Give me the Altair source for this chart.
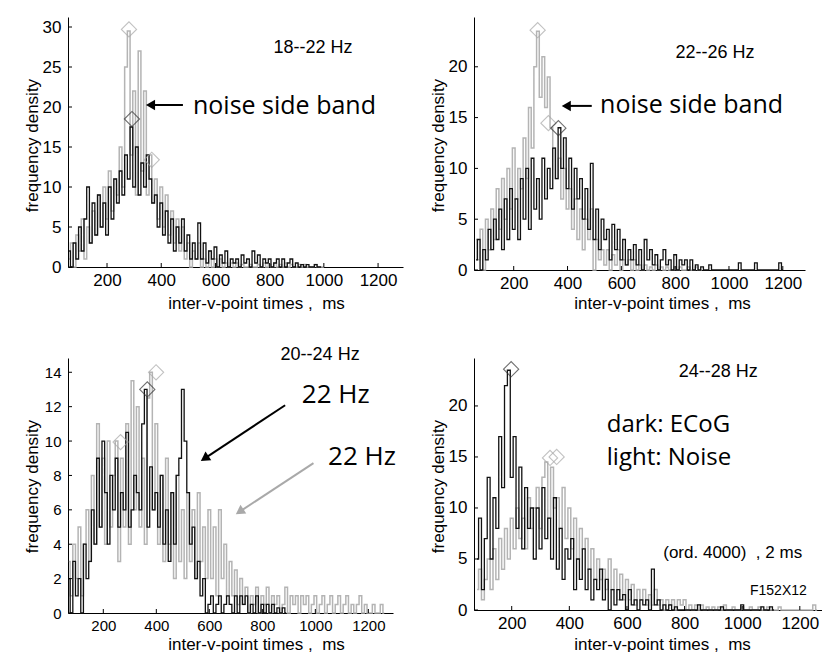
import altair as alt
import pandas as pd

BIN_MS = 10
X_TICKS = [200, 400, 600, 800, 1000, 1200]

# ---- panel 1 : 18--22 Hz (bins of 10 ms starting at P1_START)
P1_START = 60
P1_NOISE = [1, 3, 0, 4, 2, 6, 1, 5, 3, 7,
            4, 9, 5, 10, 6, 12, 7, 11, 9, 15,
            10, 25, 29.5, 14, 22, 9, 27, 12, 22, 9,
            14, 8, 11, 6, 10, 5, 9, 4, 7, 3,
            6, 2, 5, 1, 3, 0, 2, 1, 3, 0,
            1, 0, 2, 0, 1, 0, 1, 0, 0.5, 0,
            0.5, 0, 0.5, 0, 0.3, 0, 0, 0.3, 0, 0,
            0.3, 0, 0.5, 0, 0.3, 0, 0.5, 0, 0.3, 0,
            0.5, 0, 0.3, 0, 0, 0.3, 0, 0.3, 0, 0, 0, 0.3, 0, 0, 0]
P1_ECOG = [2, 0, 3, 1, 5, 2, 6, 10, 3, 8,
           4, 9, 5, 8, 4, 10, 6, 11, 8, 12,
           9, 14, 11, 17.5, 10, 15, 9, 13, 10, 14,
           11, 8, 9, 5, 8, 4, 7, 3, 6, 2,
           5, 3, 6, 2, 4, 1, 3, 1, 5.5, 1,
           3, 0.5, 2, 1, 2.5, 0, 1.5, 0.5, 2, 0,
           1, 0.5, 1, 0, 1.5, 0.5, 1, 0, 2, 0.5,
           1.5, 0, 1, 0.5, 1, 0, 0.5, 1, 0, 1,
           0, 0.5, 1, 0, 0.5, 0, 0.3, 0, 0.3, 0,
           0, 0.3, 0, 0]

# ---- panel 2 : 22--26 Hz
P2_START = 60
P2_NOISE = [3, 1, 4, 0, 5, 2, 6, 3, 8, 4,
            9, 5, 10, 6, 12, 7, 10, 8, 13, 9,
            16, 12, 20, 23.5, 17, 21, 16, 19, 14, 12,
            9, 11, 7, 10, 6, 8, 4, 7, 3, 6,
            2, 5, 3, 6, 0, 3, 1, 2, 0.5, 2,
            0, 1.5, 0.5, 2, 0, 1, 0.5, 1, 0, 1,
            0, 0.5, 0, 0.5, 0, 0.3, 0, 0.5, 0, 0.3,
            0, 0.3, 0, 0, 0.3, 0, 0.3, 0, 0, 0.3, 0, 0, 0.3, 0, 0]
P2_ECOG = [1, 3, 0, 2, 1, 4, 2, 5, 3, 6,
           2, 7, 3, 8, 4, 7, 3, 9, 5, 10,
           4, 11, 6, 9, 5, 11, 7, 10, 8, 12,
           9, 14, 10, 13, 8, 11, 6, 10, 7, 9,
           5, 8, 4, 10.5, 3, 6, 2, 5, 3, 4,
           1, 4.5, 2, 4, 1, 3, 0.5, 2, 1, 2.5,
           0.5, 2, 0, 3, 1, 2, 0.5, 1.5, 0, 1,
           2, 0.5, 1, 0, 1.5, 0, 1, 0.5, 1, 0,
           1, 0, 0.5, 0, 0.3, 0, 0, 0.5, 0, 0,
           0, 0, 0, 0, 0, 0, 0, 0, 0.7, 0,
           0, 0, 0, 0, 0.7, 0, 0, 0, 0, 0, 0, 0, 0, 0.7, 0]

# ---- panel 3 : 20--24 Hz
P3_START = 70
P3_NOISE = [3, 1, 4, 2, 5, 1, 4, 6, 3, 8,
            4, 11, 5, 9, 4, 10, 5, 8, 10, 3,
            9, 5, 11, 4, 13.5, 6, 12, 5, 9, 4,
            12.5, 14, 6, 11, 4, 8, 3, 9, 4, 7,
            2, 8, 3, 6, 2, 7, 3, 6, 2, 7,
            3, 5, 2, 6, 2, 5, 1, 6, 2, 4,
            1, 3, 1, 2.5, 0.5, 2, 0.5, 1.5, 0, 1,
            0.5, 1.5, 0, 1, 0.5, 1.5, 0, 1, 0.5, 1,
            0, 0.5, 1.5, 0, 1, 0.5, 1, 0, 1, 0.5,
            1, 0, 0.5, 1, 0, 0.5, 1, 0, 0.5, 1,
            0, 0.5, 1, 0, 0.5, 1, 0, 0.5, 0, 0.5,
            1, 0, 0.5, 0, 0, 0.5, 0, 0, 0.5, 0]
P3_ECOG = [2, 0, 3, 1, 2, 0, 4, 2, 3, 6,
           4, 9, 5, 10, 7, 4, 8, 6, 9, 5,
           7, 6, 10.5, 5, 6, 8, 7, 6, 11, 13,
           5, 8.5, 6, 7, 5, 8, 4, 6, 3, 7,
           4, 8, 9, 13, 10, 7, 4, 5, 2, 3,
           1, 2, 0, 0.5, 1, 0, 0.5, 1, 0, 0.5,
           1, 0.5, 0, 1, 0, 1, 0.5, 1, 0, 0.5,
           0, 1, 0, 0.5, 0, 0.5, 0, 0.5, 0, 0.3,
           0, 0.3, 0]

# ---- panel 4 : 24--28 Hz
P4_START = 80
P4_NOISE = [2, 4, 1, 3, 5, 2, 6, 3, 7, 4,
            8, 5, 9, 6, 10, 7, 9, 6, 11, 8,
            10, 12, 8, 13, 14.5, 9, 14, 10, 11, 8,
            12, 7, 10, 6, 9, 5, 8, 6, 7, 4,
            6, 3, 5, 3, 4, 2, 5, 2, 4, 1,
            3.5, 1, 3, 1, 2.5, 0.5, 2, 1, 2, 0.5,
            1.5, 0.5, 2, 0.5, 1, 0, 1, 0.5, 1, 0,
            1, 0.5, 1, 0, 0.5, 0, 0.5, 0, 0.5, 0,
            0.3, 0, 0.3, 0, 0.3, 0, 0.5, 0, 0, 0.3,
            0, 0, 0.3, 0, 0, 0.3, 0, 0, 0.3, 0,
            0, 0.3, 0, 0, 0, 0.3, 0, 0, 0, 0, 0, 0, 0, 0, 0, 0, 0, 0.5, 0]
P4_ECOG = [5, 9, 2, 7, 13, 5, 11, 8, 17, 12,
           22, 23.5, 13, 17, 8, 14, 6, 12, 8, 10,
           5, 10, 6, 12, 7, 9, 5, 11, 4, 8,
           3, 6, 5, 7, 2, 5, 3, 6, 2, 4,
           1, 3, 2, 4, 1, 3, 0, 2, 0.5, 2,
           1, 1.5, 0, 2, 0.5, 1, 0, 1, 0.5, 1,
           0, 4, 0.5, 1, 0, 0.5, 0, 0.5, 0, 0.3,
           0, 0, 0, 0, 0, 0, 0, 0.5, 0, 0,
           0, 0, 0, 0, 0, 0.3, 0, 0, 0, 0,
           0, 0, 0.5, 0, 0, 0, 0, 0, 0, 0.3,
           0, 0, 0.3, 0]

# peak markers (ms, density, series)
P1_PEAKS = [(281, 29.7, "noise"), (292, 18.5, "ecog"), (365, 13.4, "noise")]
P2_PEAKS = [(289, 23.6, "noise"), (329, 14.45, "noise"), (366, 13.96, "ecog")]
P3_PEAKS = [(265, 9.94, "noise"), (366, 13.0, "ecog"), (399, 14.0, "noise")]
P4_PEAKS = [(198, 23.6, "ecog"), (333, 14.9, "noise"), (356, 15.0, "noise")]

GRAY = "#b4b4b4"
DARK = "#111111"
DIAMOND_GRAY = "#a8a8a8"
DIAMOND_DARK = "#333333"
FONT = "Liberation Sans"
AFONT = "Open Sans"
XTITLE = "inter-v-point times ,\u00a0\u00a0ms"


def series_df(start, values):
    return pd.DataFrame({"t": [start + BIN_MS * i for i in range(len(values))], "f": values})


def panel(cfg):
    w, h = cfg["w"], cfg["h"]
    xs = alt.Scale(domain=cfg["xdom"], nice=False, zero=False)
    ys = alt.Scale(domain=cfg["ydom"], nice=False, zero=False)
    xa = alt.Axis(values=X_TICKS, format="d", ticks=False, grid=False, domainColor="black", domainWidth=1,
                  labelFont=FONT, labelFontSize=cfg["lfs"], labelColor="black", labelPadding=5,
                  labelFlush=False, labelOverlap=False,
                  title=XTITLE, titleFont=FONT, titleFontSize=17, titleFontWeight="normal",
                  titleColor="black", titleX=188, titleY=cfg["xty"], titleBaseline="middle")
    ya = alt.Axis(values=cfg["yticks"], format="d", ticks=False, grid=False, domainColor="black", domainWidth=1,
                  labelFont=FONT, labelFontSize=cfg["lfs"], labelColor="black", labelPadding=7,
                  labelFlush=False, labelOverlap=False,
                  title="frequency density", titleFont=FONT, titleFontSize=17,
                  titleFontWeight="normal", titleColor="black", titleX=-36, titleY=128,
                  titleBaseline="middle")
    X = alt.X("t:Q", scale=xs, axis=xa)
    Y = alt.Y("f:Q", scale=ys, axis=ya)

    layers = []
    layers.append(alt.Chart(series_df(cfg["start"], cfg["noise"])).mark_line(
        interpolate="step", color=GRAY, strokeWidth=1.5).encode(x=X, y=Y))
    layers.append(alt.Chart(series_df(cfg["start"], cfg["ecog"])).mark_line(
        interpolate="step", color=DARK, strokeWidth=1.3).encode(x=X, y=Y))

    pk = pd.DataFrame(cfg["peaks"], columns=["t", "f", "s"])
    layers.append(alt.Chart(pk).mark_point(shape="diamond", size=230, filled=False, strokeWidth=1.1).encode(
        x=X, y=Y,
        color=alt.Color("s:N", scale=alt.Scale(domain=["noise", "ecog"], range=[DIAMOND_GRAY, DIAMOND_DARK]),
                        legend=None)))

    # inward ticks
    layers.append(alt.Chart(pd.DataFrame({"t": X_TICKS})).mark_rule(color="black", strokeWidth=1).encode(
        x=X, y=alt.value(h), y2=alt.value(h - 4)))
    layers.append(alt.Chart(pd.DataFrame({"f": cfg["yticks"]})).mark_rule(color="black", strokeWidth=1).encode(
        y=Y, x=alt.value(0), x2=alt.value(4)))

    for a in cfg.get("arrows", []):
        adf = pd.DataFrame({"t": [a["tail"][0]], "f": [a["tail"][1]], "t2": [a["head"][0]], "f2": [a["head"][1]]})
        layers.append(alt.Chart(adf).mark_rule(color=a["color"], strokeWidth=2).encode(
            x=X, y=Y, x2="t2:Q", y2="f2:Q"))
        hdf = pd.DataFrame({"t": [a["head"][0]], "f": [a["head"][1]]})
        layers.append(alt.Chart(hdf).mark_point(shape="triangle", filled=True, size=a["size"], opacity=1,
                                                color=a["color"], angle=a["angle"]).encode(x=X, y=Y))

    for tx in cfg["texts"]:
        tdf = pd.DataFrame({"t": [tx["t"]], "f": [tx["f"]], "label": [tx["text"]]})
        layers.append(alt.Chart(tdf).mark_text(font=tx["font"], fontSize=tx["size"], align=tx["align"],
                                               baseline="middle", color="black").encode(
            x=X, y=Y, text="label:N"))

    return alt.layer(*layers).properties(width=w, height=h)


p1 = panel(dict(
    w=335, h=250, xdom=[56, 1292], ydom=[0, 31.25], yticks=[0, 5, 10, 15, 20, 25, 30], lfs=17, xty=36,
    start=P1_START, noise=P1_NOISE, ecog=P1_ECOG, peaks=P1_PEAKS,
    arrows=[dict(tail=(480, 20.25), head=(366, 20.25), color="black", size=110, angle=270)],
    texts=[dict(text="18--22 Hz", t=960, f=27.4, size=18, font=FONT, align="center"),
           dict(text="noise side band", t=517, f=20.1, size=25, font=AFONT, align="left")]))

p2 = panel(dict(
    w=331, h=253, xdom=[52.4, 1282.5], ydom=[0, 24.9], yticks=[0, 5, 10, 15, 20], lfs=17, xty=33,
    start=P2_START, noise=P2_NOISE, ecog=P2_ECOG, peaks=P2_PEAKS,
    arrows=[dict(tail=(490, 16.15), head=(401, 16.15), color="black", size=110, angle=270)],
    texts=[dict(text="22--26 Hz", t=948, f=21.35, size=18, font=FONT, align="center"),
           dict(text="noise side band", t=521, f=16.2, size=25, font=AFONT, align="left")]))

p3 = panel(dict(
    w=325, h=255, xdom=[66.8, 1293], ydom=[0, 14.83], yticks=[0, 2, 4, 6, 8, 10, 12, 14], lfs=15, xty=31,
    start=P3_START, noise=P3_NOISE, ecog=P3_ECOG, peaks=P3_PEAKS,
    arrows=[dict(tail=(886, 12.08), head=(587, 9.04), color="black", size=110, angle=236.6),
            dict(tail=(993, 8.72), head=(719, 5.94), color="#a9a9a9", size=110, angle=236.6)],
    texts=[dict(text="20--24 Hz", t=1018, f=14.98, size=18, font=FONT, align="center"),
           dict(text="22 Hz", t=949, f=12.7, size=26, font=AFONT, align="left"),
           dict(text="22 Hz", t=1048, f=9.07, size=26, font=AFONT, align="left")]))

p4 = panel(dict(
    w=348, h=252, xdom=[69.1, 1277], ydom=[0, 24.7], yticks=[0, 5, 10, 15, 20], lfs=17, xty=34,
    start=P4_START, noise=P4_NOISE, ecog=P4_ECOG, peaks=P4_PEAKS,
    texts=[dict(text="24--28 Hz", t=917, f=23.3, size=18, font=FONT, align="center"),
           dict(text="dark: ECoG", t=530, f=18.1, size=24, font=AFONT, align="left"),
           dict(text="light: Noise", t=530, f=14.9, size=24, font=AFONT, align="left"),
           dict(text="(ord. 4000)\u00a0\u00a0, 2 ms", t=726, f=5.6, size=17, font=FONT, align="left"),
           dict(text="F152X12", t=1027, f=1.9, size=14, font=FONT, align="left")]))

chart = alt.concat(p1, p2, p3, p4, columns=2, spacing={"row": 88, "column": 71}, bounds="flush").properties(
    padding={"left": 15, "top": 9, "right": 0, "bottom": 0}
).configure_view(strokeWidth=0)

chart.save("out.html", embed_options={"renderer": "svg", "actions": False})
